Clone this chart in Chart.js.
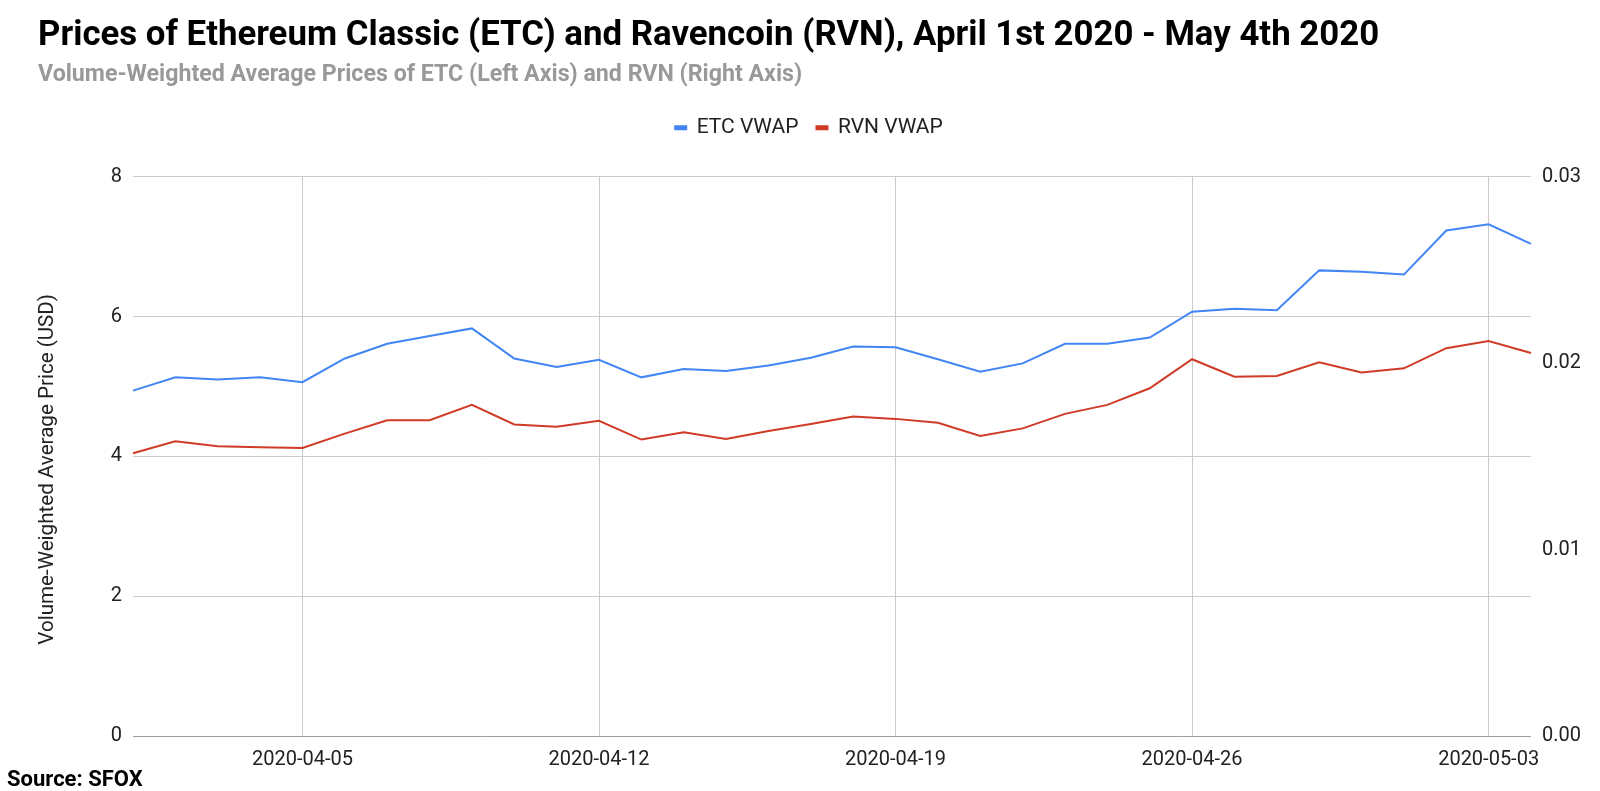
<!DOCTYPE html>
<html><head><meta charset="utf-8">
<script src="https://cdn.jsdelivr.net/npm/chart.js@4"></script>
<style>
html,body{margin:0;padding:0;background:#fff;}
#wrap{position:relative;width:1600px;height:791px;}
#source{position:absolute;left:7px;top:767px;font:bold 22px Roboto, sans-serif;color:#000;line-height:24px;}
</style></head><body>
<div id="wrap"><canvas id="c" width="1600" height="791"></canvas><div id="source">Source: SFOX</div></div>
<script>
const dates = ['2020-04-01','2020-04-02','2020-04-03','2020-04-04','2020-04-05','2020-04-06','2020-04-07','2020-04-08','2020-04-09','2020-04-10','2020-04-11','2020-04-12','2020-04-13','2020-04-14','2020-04-15','2020-04-16','2020-04-17','2020-04-18','2020-04-19','2020-04-20','2020-04-21','2020-04-22','2020-04-23','2020-04-24','2020-04-25','2020-04-26','2020-04-27','2020-04-28','2020-04-29','2020-04-30','2020-05-01','2020-05-02','2020-05-03','2020-05-04'];
const etcVwap = [4.94,5.13,5.10,5.13,5.06,5.40,5.61,5.72,5.83,5.40,5.28,5.38,5.13,5.25,5.22,5.30,5.41,5.57,5.56,5.39,5.21,5.33,5.61,5.61,5.70,6.07,6.11,6.09,6.66,6.64,6.60,7.23,7.32,7.04];
const rvnVwap = [0.01517,0.01581,0.01554,0.01549,0.01545,0.01622,0.01694,0.01694,0.01776,0.01671,0.01659,0.01691,0.01590,0.01629,0.01593,0.01636,0.01673,0.01714,0.01701,0.01680,0.01609,0.01650,0.01728,0.01776,0.01865,0.02021,0.01927,0.01931,0.02004,0.01950,0.01972,0.02080,0.02119,0.02054];
const leftTicks = [0,2,4,6,8];
const rightTicks = [0,0.01,0.02,0.03];
const seriesNames = ['ETC VWAP','RVN VWAP'];
const titleText = 'Prices of Ethereum Classic (ETC) and Ravencoin (RVN), April 1st 2020 - May 4th 2020';
const subtitleText = 'Volume-Weighted Average Prices of ETC (Left Axis) and RVN (Right Axis)';
const yTitleText = 'Volume-Weighted Average Price (USD)';

Chart.defaults.font.family = 'Roboto, sans-serif';
Chart.defaults.color = '#222';

const legendSpacer = {
  id: 'legendSpacer',
  beforeInit(chart) {
    const fit = chart.legend.fit;
    chart.legend.fit = function () { fit.call(this); this.height += 28.5; };
  }
};

const yTitleShift = {
  id: 'yTitleShift',
  afterLayout(chart) {
    const s = chart.scales.y;
    if (s && !s._titleShifted) {
      const dt = s.drawTitle;
      s.drawTitle = function () {
        const c = this.ctx;
        c.save();
        c.translate(0, 13);
        dt.call(this);
        c.restore();
      };
      s._titleShifted = true;
    }
  }
};

new Chart(document.getElementById('c'), {
  type: 'line',
  data: {
    labels: dates,
    datasets: [
      {label: seriesNames[0], data: etcVwap, yAxisID: 'y', borderColor: '#4285F4', backgroundColor: '#4285F4', borderWidth: 2, pointRadius: 0, tension: 0},
      {label: seriesNames[1], data: rvnVwap, yAxisID: 'y1', borderColor: '#CF3B26', backgroundColor: '#CF3B26', borderWidth: 2, pointRadius: 0, tension: 0}
    ]
  },
  options: {
    responsive: false,
    animation: false,
    devicePixelRatio: 1,
    layout: {padding: {left: 38, right: 20, top: 0, bottom: 0}},
    plugins: {
      title: {display: true, text: titleText, align: 'start', color: '#000', font: {size: 34.8, weight: 'bold'}, padding: {top: 15, bottom: 0}},
      subtitle: {display: true, text: subtitleText, align: 'start', color: '#999', font: {size: 23.2, weight: 'bold'}, padding: {top: 4.7, bottom: 9.9}},
      legend: {display: true, position: 'top', labels: {boxWidth: 11, boxHeight: 3, padding: 18, color: '#222', font: {size: 21}}},
      tooltip: {enabled: false}
    },
    scales: {
      x: {
        type: 'category',
        offset: false,
        border: {display: false},
        grid: {drawTicks: false, color: ctx => (ctx.index % 7 === 4 ? '#cccccc' : 'rgba(0,0,0,0)')},
        ticks: {autoSkip: false, maxRotation: 0, minRotation: 0, padding: 12, color: '#222', font: {size: 20},
          callback: function (val, idx) { return idx % 7 === 4 ? dates[idx] : ''; }},
        afterFit: s => { s.height = 55; }
      },
      y: {
        position: 'left', min: 0, max: 8,
        border: {display: false},
        grid: {drawTicks: false, color: ctx => (ctx.tick && ctx.tick.value === 0 ? '#9e9e9e' : '#cccccc')},
        afterBuildTicks: s => { s.ticks = leftTicks.map(v => ({value: v})); },
        ticks: {padding: 11, color: '#222', font: {size: 20}},
        title: {display: true, text: yTitleText, color: '#222', font: {size: 20.6, lineHeight: 1}, padding: {top: 0, bottom: 0}},
        afterFit: s => { s.width = 95; }
      },
      y1: {
        position: 'right', min: 0, max: 0.03,
        border: {display: false},
        grid: {display: false, drawTicks: false},
        afterBuildTicks: s => { s.ticks = rightTicks.map(v => ({value: v})); },
        ticks: {padding: 11, color: '#222', font: {size: 20}, callback: v => v.toFixed(2)},
        afterFit: s => { s.width = 49; }
      }
    }
  },
  plugins: [legendSpacer, yTitleShift]
});
</script>
</body></html>
